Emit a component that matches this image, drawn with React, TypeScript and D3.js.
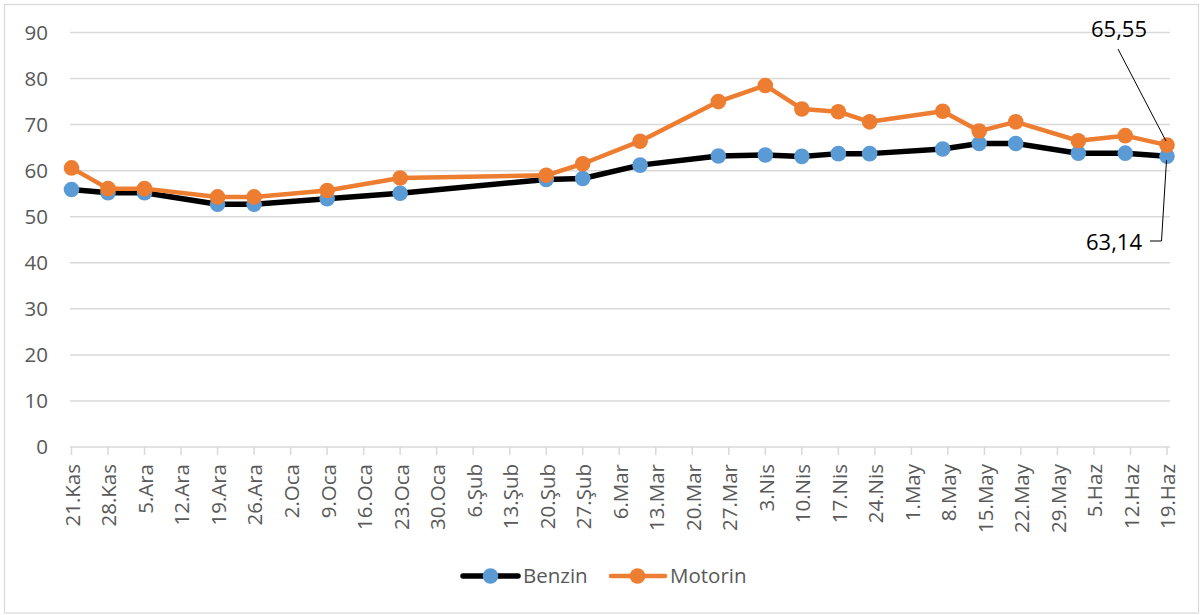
import React from "react";
import * as d3 from "d3";

const tickLabels = [
  "21.Kas", "28.Kas", "5.Ara", "12.Ara", "19.Ara", "26.Ara", "2.Oca", "9.Oca",
  "16.Oca", "23.Oca", "30.Oca", "6.Şub", "13.Şub", "20.Şub", "27.Şub", "6.Mar",
  "13.Mar", "20.Mar", "27.Mar", "3.Nis", "10.Nis", "17.Nis", "24.Nis", "1.May",
  "8.May", "15.May", "22.May", "29.May", "5.Haz", "12.Haz", "19.Haz",
];
const tickStart = "2021-11-21";

const dates = [
  "2021-11-21", "2021-11-28", "2021-12-05", "2021-12-19", "2021-12-26",
  "2022-01-09", "2022-01-23", "2022-02-20", "2022-02-27", "2022-03-10",
  "2022-03-25", "2022-04-03", "2022-04-10", "2022-04-17", "2022-04-23",
  "2022-05-07", "2022-05-14", "2022-05-21", "2022-06-02", "2022-06-11",
  "2022-06-19",
];
const benzin = [
  55.9, 55.2, 55.2, 52.7, 52.7, 53.9, 55.1, 58.1, 58.3, 61.2, 63.2, 63.4,
  63.1, 63.7, 63.7, 64.7, 65.9, 65.9, 63.8, 63.8, 63.14,
];
const motorin = [
  60.6, 56.1, 56.1, 54.3, 54.3, 55.7, 58.4, 59.0, 61.5, 66.4, 75.0, 78.5,
  73.4, 72.8, 70.6, 72.9, 68.6, 70.6, 66.5, 67.6, 65.55,
];
const yTicks = [0, 10, 20, 30, 40, 50, 60, 70, 80, 90];

const W = 1200;
const H = 615;
const FONT = "'Open Sans', 'DejaVu Sans', sans-serif";
const GRAY = "#595959";
const GRID = "#d9d9d9";

export default function App() {
  const parse = d3.utcParse("%Y-%m-%d");
  const d0 = parse(tickStart)!;
  const tickDates = tickLabels.map((_, i) => d3.utcDay.offset(d0, 7 * i));
  const x = d3
    .scaleUtc()
    .domain([d0, tickDates[tickDates.length - 1]])
    .range([71.5, 1167]);
  const y = d3.scaleLinear().domain([0, 90]).range([447, 32.5]);
  const pts = dates.map((d) => parse(d)!);

  const line = d3
    .line<[Date, number]>()
    .x((d) => x(d[0]))
    .y((d) => y(d[1]));
  const bData: [Date, number][] = pts.map((d, i) => [d, benzin[i]]);
  const mData: [Date, number][] = pts.map((d, i) => [d, motorin[i]]);

  const lastX = x(pts[pts.length - 1]);
  const lastB = y(benzin[benzin.length - 1]);
  const lastM = y(motorin[motorin.length - 1]);
  const fmt = (v: number) => v.toFixed(2).replace(".", ",");

  return (
    <svg
      width={W}
      height={H}
      style={{ position: "absolute", left: 0, top: 0, background: "#fff" }}
      fontFamily={FONT}
    >
      <rect x={4.5} y={4.5} width={1194} height={608.5} fill="#fff" stroke={GRID} strokeWidth={1.2} />
      {yTicks.map((t) => (
        <g key={t}>
          <line x1={70} x2={1170} y1={y(t)} y2={y(t)} stroke={GRID} strokeWidth={1.5} />
          <text x={48} y={y(t)} dy="0.36em" textAnchor="end" fontSize={20.5} fill={GRAY}>
            {t}
          </text>
        </g>
      ))}
      {tickDates.map((d, i) => (
        <g key={i}>
          <line x1={x(d)} x2={x(d)} y1={447} y2={455} stroke={GRID} strokeWidth={1.5} />
          <text
            transform={`translate(${x(d) + 1},${464}) rotate(-90)`}
            textAnchor="end"
            dy="0.36em"
            fontSize={20.5}
            fill={GRAY}
          >
            {tickLabels[i]}
          </text>
        </g>
      ))}

      <path d={line(bData) || ""} fill="none" stroke="#000" strokeWidth={5.5} strokeLinejoin="round" />
      {bData.map((d, i) => (
        <circle key={i} cx={x(d[0])} cy={y(d[1])} r={7.8} fill="#5B9BD5" />
      ))}
      <path d={line(mData) || ""} fill="none" stroke="#ED7D31" strokeWidth={4.5} strokeLinejoin="round" />
      {mData.map((d, i) => (
        <circle key={i} cx={x(d[0])} cy={y(d[1])} r={7.8} fill="#ED7D31" />
      ))}

      {/* data labels */}
      <line x1={1118} y1={49} x2={lastX - 1} y2={lastM - 4} stroke="#000" strokeWidth={1} />
      <text x={1147} y={37} textAnchor="end" fontSize={22} fill="#000">
        {fmt(motorin[motorin.length - 1])}
      </text>
      <polyline
        points={`1150,241 1161.5,241 ${lastX - 0.5},${lastB + 4}`}
        fill="none"
        stroke="#000"
        strokeWidth={1}
      />
      <text x={1142} y={250} textAnchor="end" fontSize={22} fill="#000">
        {fmt(benzin[benzin.length - 1])}
      </text>

      {/* legend */}
      <line x1={463} x2={518} y1={576} y2={576} stroke="#000" strokeWidth={5.5} strokeLinecap="round" />
      <circle cx={490.5} cy={576} r={7.8} fill="#5B9BD5" />
      <text x={523} y={576} dy="0.36em" fontSize={20.5} fill={GRAY}>
        Benzin
      </text>
      <line x1={611} x2={665} y1={576} y2={576} stroke="#ED7D31" strokeWidth={4.5} strokeLinecap="round" />
      <circle cx={637.5} cy={576} r={7.8} fill="#ED7D31" />
      <text x={670} y={576} dy="0.36em" fontSize={20.5} fill={GRAY}>
        Motorin
      </text>
    </svg>
  );
}
